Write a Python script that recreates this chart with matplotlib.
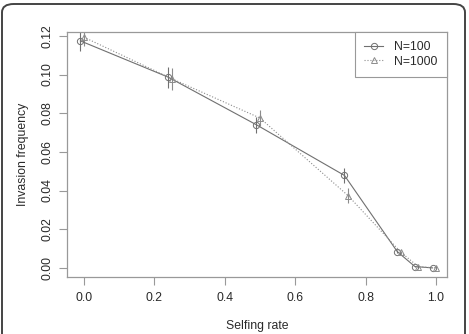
import matplotlib.pyplot as plt
from matplotlib.lines import Line2D
from matplotlib.patches import FancyBboxPatch

plt.rcParams['font.family'] = ['Liberation Sans', 'DejaVu Sans']

# Selfing rate (points are slightly shifted in the original for readability)
x_n100 = [-0.01, 0.24, 0.49, 0.74, 0.89, 0.94, 0.99]
x_n1000 = [0.00, 0.25, 0.50, 0.75, 0.90, 0.95, 1.00]

# Invasion frequency and error bar half-widths
y_n100 = [0.1174, 0.0986, 0.0740, 0.0478, 0.0084, 0.0007, 0.0000]
err_n100 = [0.0050, 0.0055, 0.0040, 0.0038, 0.0008, 0.0004, 0.0002]
y_n1000 = [0.1193, 0.0978, 0.0775, 0.0374, 0.0081, 0.0006, 0.0000]
err_n1000 = [0.0045, 0.0057, 0.0040, 0.0038, 0.0008, 0.0004, 0.0002]

labels = ['N=100', 'N=1000']
xticks = [0.0, 0.2, 0.4, 0.6, 0.8, 1.0]
yticks = [0.00, 0.02, 0.04, 0.06, 0.08, 0.10, 0.12]

fig = plt.figure(figsize=(4.69, 3.34), dpi=100)
ax = fig.add_axes([0.1429, 0.1707, 0.8101, 0.7335])

# Rounded frame around the whole figure
frame = FancyBboxPatch((2 / 469, -0.05), 463 / 469, 1 - 4 / 334 + 0.05,
                       boxstyle='round,pad=0,rounding_size=0.025',
                       transform=fig.transFigure, fill=False,
                       edgecolor='#444444', linewidth=1.4, clip_on=False)
fig.patches.append(frame)

c1, c2 = '#707070', '#8c8c8c'
ax.errorbar(x_n100, y_n100, yerr=err_n100, color=c1, linestyle='-',
            linewidth=0.8, marker='o', markersize=4.5, markerfacecolor='none',
            markeredgewidth=0.7, elinewidth=0.8, capsize=0)
ax.errorbar(x_n1000, y_n1000, yerr=err_n1000, color=c2, linestyle=':',
            linewidth=0.8, marker='^', markersize=5, markerfacecolor='none',
            markeredgewidth=0.7, elinewidth=0.8, capsize=0)

ax.set_xlim(-0.048, 1.031)
ax.set_ylim(-0.0047, 0.122)
ax.set_xticks(xticks)
ax.set_xticklabels(['%.1f' % v for v in xticks])
ax.set_yticks(yticks)
ax.set_yticklabels(['%.2f' % v for v in yticks], rotation=90, va='center')

for s in ax.spines.values():
    s.set_color('#999999')
    s.set_linewidth(0.9)
ax.tick_params(direction='out', length=6, width=0.8, color='#999999',
               labelcolor='#2a2a2a', labelsize=8.8, pad=5)
ax.tick_params(axis='y', pad=4)

ax.set_xlabel('Selfing rate', fontsize=8.8, color='#2a2a2a', labelpad=11)
ax.set_ylabel('Invasion frequency', fontsize=8.8, color='#2a2a2a', labelpad=9)

handles = [Line2D([], [], color=c1, linestyle='-', linewidth=0.8, marker='o',
                  markersize=4.5, markerfacecolor='none', markeredgewidth=0.7),
           Line2D([], [], color=c2, linestyle=':', linewidth=0.8, marker='^',
                  markersize=5, markerfacecolor='none', markeredgewidth=0.7)]
leg = ax.legend(handles, labels, loc='upper right', borderaxespad=0,
                fancybox=False, fontsize=8.8, handlelength=1.6,
                handletextpad=0.9, borderpad=0.75, labelspacing=0.2,
                framealpha=1)
leg.get_frame().set_edgecolor('#999999')
leg.get_frame().set_linewidth(0.8)
for t in leg.get_texts():
    t.set_color('#2a2a2a')

fig.savefig('out.png', dpi=100)
